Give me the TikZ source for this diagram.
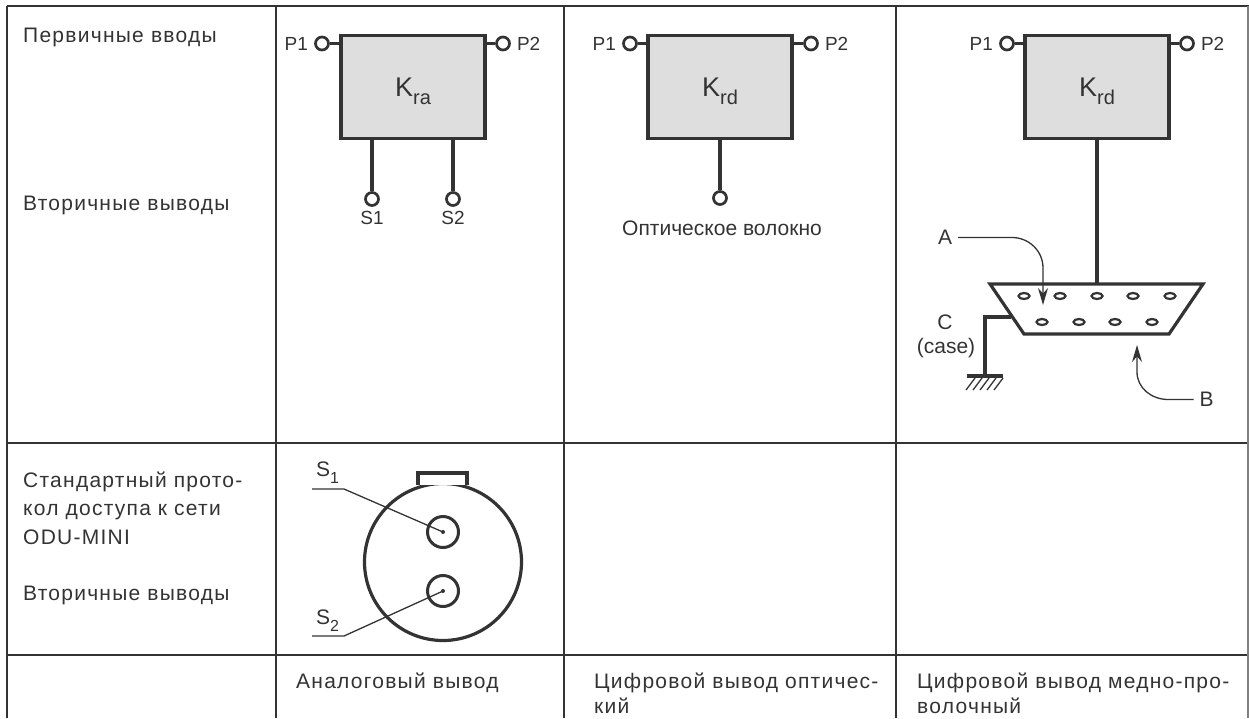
\documentclass[tikz,border=0pt]{standalone}
\usepackage{fontspec}
\setmainfont{Liberation Sans}
\newfontfamily\tablefont[LetterSpace=6]{Liberation Sans}
\usetikzlibrary{arrows.meta,positioning,shapes.geometric}
\definecolor{myink}{gray}{0.2}
\definecolor{mybox}{gray}{0.87}
\newcommand{\mysub}[3]{\raisebox{-#2pt}[0pt][0pt]{\fontsize{#3}{#3}\selectfont #1}}
\tikzset{
	gridline/.style={draw=myink, line width=1.5pt},
	wire/.style={draw=myink, line width=3.2pt},
	thinwire/.style={draw=myink, line width=1.3pt},
	kbox/.style={rectangle, draw=myink, line width=3.4pt, fill=mybox, minimum width=144pt, minimum height=103pt, inner sep=0pt, font=\fontsize{27}{27}\selectfont, text=myink},
	term/.style={circle, draw=myink, line width=2.7pt, fill=white, minimum size=13pt, inner sep=0pt},
	pin/.style={ellipse, draw=myink, line width=2.2pt, minimum width=11pt, minimum height=6pt, inner sep=0pt},
	hole/.style={circle, draw=myink, line width=3pt, minimum size=31pt, inner sep=0pt},
	txt/.style={inner sep=0pt, anchor=base west, font=\tablefont\fontsize{21}{28.5}\selectfont, text=myink},
	lab/.style={inner sep=0pt, font=\fontsize{21}{26}\selectfont, text=myink},
	plab/.style={inner sep=0pt, font=\fontsize{19}{22}\selectfont, text=myink},
	tip/.style={-{Stealth[length=17pt,width=10pt]}, thinwire},
}
\begin{document}
\begin{tikzpicture}[x=1pt, y=-1pt]
\useasboundingbox (0,0) rectangle (1249,718);
	% table lines
	\draw[gridline] (7,6) -- (1249,6);
	\draw[gridline] (7,443) -- (1249,443);
	\draw[gridline] (7,655) -- (1249,655);
	\foreach \x in {7,276,564,896} {
		\draw[gridline] (\x,6) -- (\x,718);
	}
	\draw[gridline, draw=gray] (1248,6) -- (1248,718);
	
	% left column
	\node[txt] (t1) at (23,42) {Первичные вводы};
	\node[txt] (t2) at (23,210) {Вторичные выводы};
	\node[txt, anchor=north west, text width=232pt, align=left] (t3) at (23,471.5) {\makebox[232pt][s]{Стандартный прото-}\\\makebox[232pt][s]{кол доступа к сети}\\ODU-MINI};
	\node[txt] (t4) at (23,600) {Вторичные выводы};
	
	% analog output
	\node[kbox] (k1) at (413,87) {K\mysub{ra}{8.5}{20}};
	\node[term] (p11) at (322,43.5) {};
	\node[term] (p12) at (503,43.5) {};
	\node[plab, left=6pt of p11] (l11) {P1};
	\node[plab, right=6pt of p12] (l12) {P2};
	\draw[wire] (p11) -- (p11 -| k1.west);
	\draw[wire] (p12) -- (p12 -| k1.east);
	\node[term] (s1) at (372,199) {};
	\node[term] (s2) at (453,199) {};
	\node[plab, below=4pt of s1] (ls1) {S1};
	\node[plab, below=4pt of s2] (ls2) {S2};
	\draw[wire] (s1) -- (s1 |- k1.south);
	\draw[wire] (s2) -- (s2 |- k1.south);
	
	% digital output, fibre
	\node[kbox] (k2) at (720,87) {K\mysub{rd}{8.5}{20}};
	\node[term] (p21) at (630,43.5) {};
	\node[term] (p22) at (811,43.5) {};
	\node[plab, left=6pt of p21] (l21) {P1};
	\node[plab, right=6pt of p22] (l22) {P2};
	\draw[wire] (p21) -- (p21 -| k2.west);
	\draw[wire] (p22) -- (p22 -| k2.east);
	\node[term] (s3) at (720,198) {};
	\draw[wire] (s3) -- (s3 |- k2.south);
	\node[lab, anchor=base] (l3) at (722,235) {Оптическое волокно};
	
	% digital output, copper
	\node[kbox] (k3) at (1097,87) {K\mysub{rd}{8.5}{20}};
	\node[term] (p31) at (1007,43.5) {};
	\node[term] (p32) at (1187,43.5) {};
	\node[plab, left=6pt of p31] (l31) {P1};
	\node[plab, right=6pt of p32] (l32) {P2};
	\draw[wire] (p31) -- (p31 -| k3.west);
	\draw[wire] (p32) -- (p32 -| k3.east);
	\coordinate (c1) at (990,284);
	\coordinate (c2) at (1203,284);
	\coordinate (c3) at (1169,334);
	\coordinate (c4) at (1024,334);
	\draw[wire, line join=miter] (c1) -- (c2) -- (c3) -- (c4) -- cycle;
	\coordinate (ctop) at (1097,284);
	\draw[wire] (ctop) -- (ctop |- k3.south);
	\foreach \x in {1024,1060,1097,1133,1170} {
		\node[pin] at (\x,296) {};
	}
	\foreach \x in {1042,1079,1115,1152} {
		\node[pin] at (\x,322) {};
	}
	
	\node[lab, outer sep=6pt] (la) at (945,237.5) {A};
	\node[lab, outer sep=6pt] (lb) at (1206.5,399.5) {B};
	\node[lab] (lc) at (945,322) {C};
	\node[lab] (lcase) at (946,348) {(case)};
	\coordinate (atip) at (1043,305);
	\coordinate (btip) at (1137,345);
	\draw[tip] (la) -- (1012,237.5) to[out=0, in=90] (1043,268) -- (atip);
	\draw[tip] (lb) -- (1168,399.5) to[out=180, in=-90] (1137,372) -- (btip);
	
	% ground
	\coordinate (g0) at (1011,317);
	\coordinate (g1) at (985,317);
	\coordinate (g2) at (985,376);
	\draw[wire] (g0) -- (g1) -- (g2);
	\draw[wire] (967,376) -- (1003,376);
	\foreach \x in {975,982,989,996,1003} {
		\draw[thinwire] (\x,378) -- ++(-9,12);
	}
	
	% connector ODU-MINI
	\node[circle, draw=myink, line width=3.2pt, minimum size=157pt, inner sep=0pt] (body) at (443,562) {};
	\draw[wire, fill=white] (418,485) -- (418,473) -- (467,473) -- (467,485);
	\node[hole] (h1) at (443,532) {};
	\node[hole] (h2) at (443,591) {};
	\fill[myink] (h1) circle (2pt);
	\fill[myink] (h2) circle (2pt);
	\draw[thinwire] (312,489) -- (344,489) -- (h1.center);
	\draw[thinwire] (312,636) -- (344,636) -- (h2.center);
	\node[lab, anchor=base west] (ls1b) at (316,476) {S\mysub{1}{7}{16}};
	\node[lab, anchor=base west] (ls2b) at (316,624) {S\mysub{2}{7}{16}};
	
	% bottom row
	\node[txt] (b1) at (296,688) {Аналоговый вывод};
	\node[txt] (b2) at (594,688) {Цифровой вывод оптичес-};
	\node[txt] (b2b) at (594,713) {кий};
	\node[txt] (b3) at (917,688) {Цифровой вывод медно-про-};
	\node[txt] (b3b) at (917,713) {волочный};
\end{tikzpicture}
\end{document}
